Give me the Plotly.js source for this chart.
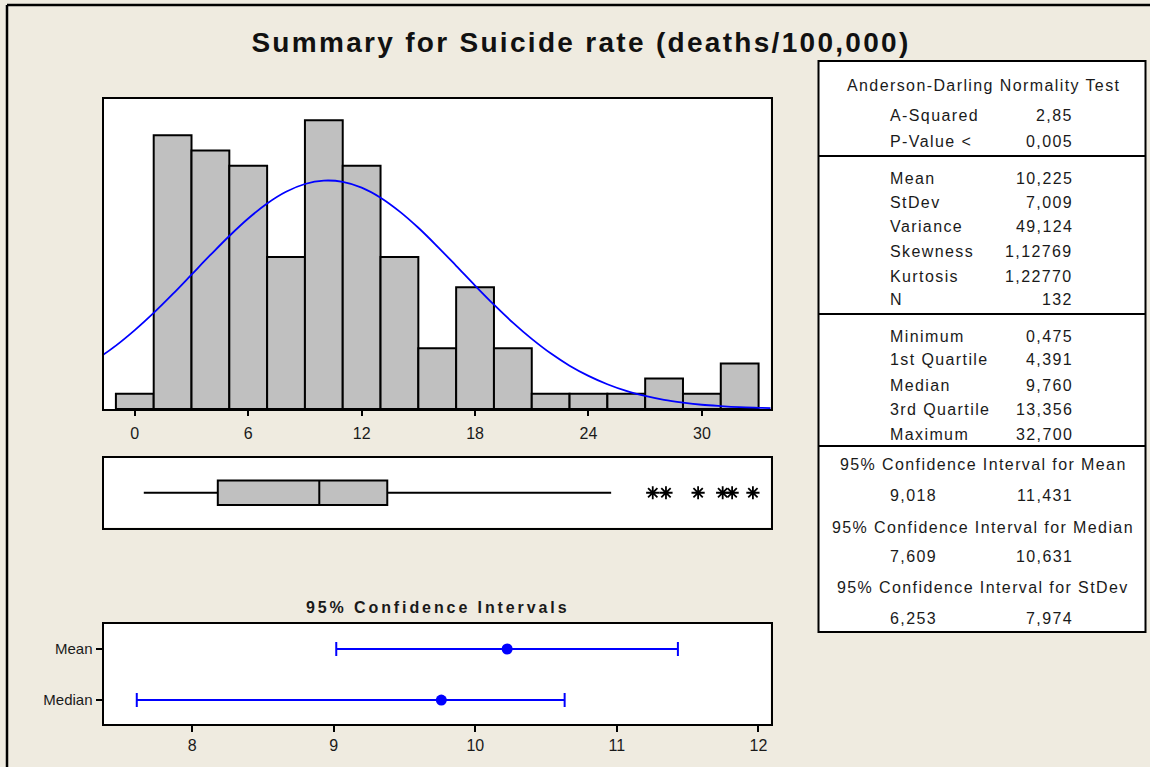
<!DOCTYPE html>
<html>
<head>
<meta charset="utf-8">
<script src="https://cdn.plot.ly/plotly-3.0.1.min.js"></script>
<style>
  html, body { margin: 0; padding: 0; background: #EFEBE0; }
  #chart { width: 1150px; height: 767px; }
</style>
</head>
<body>
<div id="chart"></div>
<script>
// ---------- DATA ----------
const chartTitle = "Summary for Suicide rate (deaths/100,000)";
const binCenters = [0, 2, 4, 6, 8, 10, 12, 14, 16, 18, 20, 22, 24, 26, 28, 30, 32];
const binCounts  = [1, 18, 17, 16, 10, 19, 16, 10, 4, 8, 4, 1, 1, 1, 2, 1, 3];
const histTicks  = [0, 6, 12, 18, 24, 30];

// fitted normal curve, heights (count scale)
const curveX = [-2, -1, 0, 1, 2, 3, 4, 5, 6, 7, 8, 9, 10, 11, 12, 13, 14, 15, 16, 17, 18,
                19, 20, 21, 22, 23, 24, 25, 26, 27, 28, 29, 30, 31, 32, 33, 34];
const curveY = [3.28, 4.17, 5.19, 6.32, 7.55, 8.84, 10.13, 11.38, 12.53, 13.52, 14.29, 14.80,
                15.02, 14.94, 14.56, 13.90, 13.00, 11.92, 10.70, 9.42, 8.12, 6.86, 5.68, 4.61,
                3.66, 2.85, 2.18, 1.63, 1.19, 0.86, 0.60, 0.42, 0.28, 0.19, 0.12, 0.08, 0.05];

// boxplot
const boxQ1 = [4.391];
const boxMedian = [9.760];
const boxQ3 = [13.356];
const boxLowWhisker = [0.475];
const boxHighWhisker = [25.2];
const outliers = [27.4, 28.1, 29.8, 31.1, 31.6, 32.7];

// confidence intervals
const ciTitle = "95% Confidence Intervals";
const ciLabels = ["Median", "Mean"];
const ciCenters = [9.760, 10.225];
const ciLow = [7.609, 9.018];
const ciHigh = [10.631, 11.431];
const ciTicks = [8, 9, 10, 11, 12];

// summary table
const adTitle = "Anderson-Darling Normality Test";
const adLabels = ["A-Squared", "P-Value <"];
const adValues = ["2,85", "0,005"];
const momentLabels = ["Mean", "StDev", "Variance", "Skewness", "Kurtosis", "N"];
const momentValues = ["10,225", "7,009", "49,124", "1,12769", "1,22770", "132"];
const quantLabels = ["Minimum", "1st Quartile", "Median", "3rd Quartile", "Maximum"];
const quantValues = ["0,475", "4,391", "9,760", "13,356", "32,700"];
const intervalTitles = ["95% Confidence Interval for Mean",
                        "95% Confidence Interval for Median",
                        "95% Confidence Interval for StDev"];
const intervalLow = ["9,018", "7,609", "6,253"];
const intervalHigh = ["11,431", "10,631", "7,974"];

// ---------- LAYOUT HELPERS ----------
const W = 1150, H = 767;
const px = x => x / W;
const py = y => 1 - y / H;
const FONT = "Liberation Sans, Arial, sans-serif";
const TXT = "#1a1a1a";
const sp = (t, s) => '<span style="letter-spacing:' + s + 'px">' + t + '</span>';

const plotL = 103.5, plotR = 770.5;

const traces = [
  {
    type: "bar", x: binCenters, y: binCounts, width: 2,
    marker: { color: "#C0C0C0", line: { color: "#000", width: 2 } },
    xaxis: "x", yaxis: "y", hoverinfo: "skip"
  },
  {
    type: "scatter", mode: "lines", x: curveX, y: curveY,
    line: { color: "#0000FF", width: 1.8, shape: "spline" },
    xaxis: "x", yaxis: "y", hoverinfo: "skip"
  },
  {
    type: "box", orientation: "h", y: [0],
    q1: boxQ1, median: boxMedian, q3: boxQ3,
    lowerfence: boxLowWhisker, upperfence: boxHighWhisker,
    width: 0.7, whiskerwidth: 0, boxpoints: false,
    fillcolor: "#C0C0C0", line: { color: "#000", width: 2 },
    xaxis: "x2", yaxis: "y2", hoverinfo: "skip"
  },
  {
    type: "scatter", mode: "markers", x: outliers, y: outliers.map(() => 0),
    marker: { symbol: "asterisk-open", size: 11, color: "#000", line: { color: "#000", width: 1.8 } },
    xaxis: "x2", yaxis: "y2", hoverinfo: "skip"
  },
  {
    type: "scatter", mode: "markers", x: ciCenters, y: [0, 1],
    marker: { symbol: "circle", size: 11, color: "#0000FF" },
    error_x: {
      type: "data", symmetric: false,
      array: ciHigh.map((v, i) => v - ciCenters[i]),
      arrayminus: ciCenters.map((v, i) => v - ciLow[i]),
      color: "#0000FF", thickness: 2, width: 7
    },
    xaxis: "x3", yaxis: "y3", hoverinfo: "skip"
  }
];

const frameAxis = {
  showline: true, mirror: true, linecolor: "#000", linewidth: 2,
  showgrid: false, zeroline: false, fixedrange: true
};

const annotations = [];
// CI title
annotations.push({
  xref: "paper", yref: "paper", x: px(437), y: py(607), xanchor: "center", yanchor: "middle",
  text: "<b>" + sp(ciTitle, 2.9) + "</b>", showarrow: false,
  font: { family: FONT, size: 16, color: TXT }
});

const tableCenter = px(983);
const labelX = px(888), valueX = px(1075);
const tfont = { family: FONT, size: 16, color: TXT };
const LS = 1.4;
function centered(t, y) {
  annotations.push({ xref: "paper", yref: "paper", x: tableCenter, y: py(y), xanchor: "center",
    yanchor: "middle", text: sp(t, LS), showarrow: false, font: tfont });
}
function left(t, y) {
  annotations.push({ xref: "paper", yref: "paper", x: labelX, y: py(y), xanchor: "left",
    yanchor: "middle", text: sp(t, LS), showarrow: false, font: tfont });
}
function right(t, y) {
  annotations.push({ xref: "paper", yref: "paper", x: valueX, y: py(y), xanchor: "right",
    yanchor: "middle", text: sp(t, LS), showarrow: false, font: tfont });
}
centered(adTitle, 86);
const adRows = [116, 142];
adLabels.forEach((l, i) => { left(l, adRows[i]); right(adValues[i], adRows[i]); });
const momentRows = [178, 202, 227, 251, 276, 300];
momentLabels.forEach((l, i) => { left(l, momentRows[i]); right(momentValues[i], momentRows[i]); });
const quantRows = [336, 360, 385, 409, 434];
quantLabels.forEach((l, i) => { left(l, quantRows[i]); right(quantValues[i], quantRows[i]); });
const intTitleRows = [464, 527, 587];
const intValRows = [495, 556, 618];
intervalTitles.forEach((t, i) => {
  centered(t, intTitleRows[i]);
  left(intervalLow[i], intValRows[i]);
  right(intervalHigh[i], intValRows[i]);
});

const shapes = [
  // outer frame (top & left)
  { type: "line", xref: "paper", yref: "paper", x0: px(7), x1: 1, y0: py(5), y1: py(5), line: { color: "#000", width: 2.5 } },
  { type: "line", xref: "paper", yref: "paper", x0: px(7), x1: px(7), y0: py(5), y1: 0, line: { color: "#000", width: 2.5 } },
  // table box
  { type: "rect", xref: "paper", yref: "paper", x0: px(818.5), x1: px(1145.5), y0: py(61), y1: py(632),
    fillcolor: "#FFFFFF", line: { color: "#000", width: 2 }, layer: "below" },
  { type: "line", xref: "paper", yref: "paper", x0: px(818.5), x1: px(1145.5), y0: py(156), y1: py(156), line: { color: "#000", width: 2 } },
  { type: "line", xref: "paper", yref: "paper", x0: px(818.5), x1: px(1145.5), y0: py(314), y1: py(314), line: { color: "#000", width: 2 } },
  { type: "line", xref: "paper", yref: "paper", x0: px(818.5), x1: px(1145.5), y0: py(446), y1: py(446), line: { color: "#000", width: 2 } }
];

const xr = [-1.656, 33.63];
const layout = {
  width: W, height: H,
  margin: { l: 0, r: 0, t: 0, b: 0 },
  paper_bgcolor: "#EFEBE0",
  plot_bgcolor: "#FFFFFF",
  showlegend: false,
  hovermode: false,
  bargap: 0,
  title: {
    text: sp(chartTitle, 2.3),
    x: px(581), y: py(42), xanchor: "center", yanchor: "middle", xref: "paper", yref: "paper",
    font: { family: FONT, size: 28, color: "#111", weight: 700 }
  },
  xaxis: Object.assign({}, frameAxis, {
    domain: [px(plotL), px(plotR)], anchor: "y", range: xr,
    tickmode: "array", tickvals: histTicks, ticks: "outside", ticklen: 5, tickwidth: 2, tickcolor: "#000",
    ticklabelstandoff: 4,
    tickfont: { family: FONT, size: 16, color: TXT }
  }),
  yaxis: Object.assign({}, frameAxis, {
    domain: [py(409), py(99)], anchor: "x", range: [0, 20.39], showticklabels: false, ticks: ""
  }),
  xaxis2: Object.assign({}, frameAxis, {
    domain: [px(plotL), px(plotR)], anchor: "y2", range: xr, showticklabels: false, ticks: ""
  }),
  yaxis2: Object.assign({}, frameAxis, {
    domain: [py(527.5), py(458)], anchor: "x2", range: [-1, 1], showticklabels: false, ticks: ""
  }),
  xaxis3: Object.assign({}, frameAxis, {
    domain: [px(plotL), px(plotR)], anchor: "y3", range: [7.374, 12.085],
    tickmode: "array", tickvals: ciTicks, ticks: "outside", ticklen: 6, tickwidth: 2, tickcolor: "#000",
    tickfont: { family: FONT, size: 16, color: TXT }
  }),
  yaxis3: Object.assign({}, frameAxis, {
    domain: [py(724), py(624)], anchor: "x3", range: [-0.47, 1.49],
    tickmode: "array", tickvals: [0, 1], ticktext: ciLabels, ticks: "outside", ticklen: 6, tickwidth: 2, tickcolor: "#000",
    tickfont: { family: FONT, size: 15, color: TXT }
  }),
  shapes: shapes,
  annotations: annotations
};

Plotly.newPlot("chart", traces, layout, { staticPlot: true, displayModeBar: false });
</script>
</body>
</html>
